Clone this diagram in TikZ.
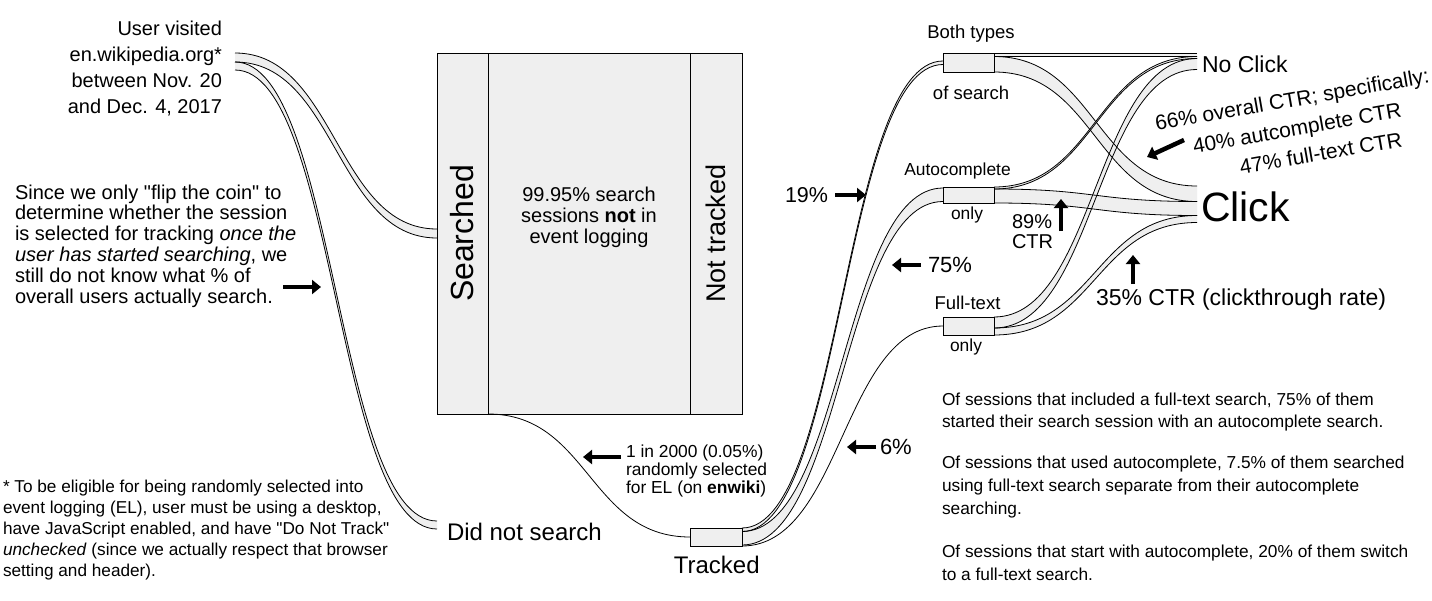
\documentclass[tikz,border=0pt]{standalone}
\usepackage{fontspec}
\setmainfont{Liberation Sans}[Ligatures=TeXOff]
\usetikzlibrary{arrows.meta}
\pgfdeclarelayer{background}
\pgfsetlayers{background,main}
\definecolor{boxgray}{HTML}{EFEFEF}
\definecolor{flowgray}{HTML}{EFEFEF}
\newcommand\fs[2]{\fontsize{#1}{#2}\selectfont}
\newcommand\sflow[5]{%
  \pgfmathsetmacro\fxm{(#1+#3)/2}%
  \pgfmathsetmacro\fyb{#2+#5}%
  \pgfmathsetmacro\fyd{#4+#5}%
  \begin{pgfonlayer}{background}
  \fill[flowfill] (#1,#2) .. controls (\fxm,#2) and (\fxm,#4) .. (#3,#4) -- (#3,\fyd) .. controls (\fxm,\fyd) and (\fxm,\fyb) .. (#1,\fyb) -- cycle;
  \end{pgfonlayer}
  \draw[flowline] (#1,#2) .. controls (\fxm,#2) and (\fxm,#4) .. (#3,#4);
  \draw[flowline] (#1,\fyb) .. controls (\fxm,\fyb) and (\fxm,\fyd) .. (#3,\fyd);
}
\newcommand\sline[4]{%
  \pgfmathsetmacro\fxm{(#1+#3)/2}%
  \draw[flowline] (#1,#2) .. controls (\fxm,#2) and (\fxm,#4) .. (#3,#4);
}
\begin{document}
\begin{tikzpicture}[x=1pt,y=-1pt,
  flowfill/.style={fill=flowgray},
  flowline/.style={draw=black, line width=0.8pt},
  box/.style={draw=black, line width=0.8pt, fill=boxgray, inner sep=0pt, outer sep=0pt},
  txt/.style={inner sep=0pt, outer sep=0pt, text=black},
  bigarrow/.style={line width=4.5pt, -{Triangle[length=9pt,width=14pt]}}]
\begin{pgfonlayer}{background}
\fill[white] (0,0) rectangle (1432,600);
\end{pgfonlayer}
\useasboundingbox (0,0) rectangle (1432,600);

% ---- flows ----
\sflow{235}{53}{437}{229}{9}
\sflow{235}{62}{437}{521}{8}
\sflow{488}{53}{690}{53}{361}
\sline{488}{414}{690}{537}
\sflow{742}{528}{943}{61}{3.5}
\sflow{742}{531.5}{943}{188}{13.5}
\sline{742}{546}{943}{326}
\sflow{994}{53}{1197}{53}{3.5}
\sflow{994}{56.5}{1197}{186}{15.5}
\sflow{994}{187}{1197}{56.5}{2}
\sflow{994}{189}{1197}{201.5}{14}
\sflow{994}{317}{1197}{58.5}{11}
\sflow{994}{328}{1197}{215.5}{7}

% ---- boxes ----
\node[box, rotate=90, minimum width=361pt, minimum height=51pt, font=\fs{32}{32}] (searched) at (462.5,233.5) {Searched};
\node[box, rotate=90, minimum width=361pt, minimum height=52pt, font=\fs{27}{27}] (nottracked) at (716,233.5) {Not tracked};
\node[box, minimum width=52pt, minimum height=18pt] (tracked) at (716,537) {};
\node[box, minimum width=51pt, minimum height=19pt] (both) at (968.5,62.5) {};
\node[box, minimum width=51pt, minimum height=16pt] (auto) at (968.5,195) {};
\node[box, minimum width=51pt, minimum height=18pt] (full) at (968.5,326) {};

% ---- labels ----
\node[txt, anchor=east, align=right, font=\fs{20}{26}] (user) at (222,69) {User visited\\en.wikipedia.org*\\between Nov. 20\\and Dec. 4, 2017};
\node[txt, anchor=west, align=left, font=\fs{20}{20.8}] (since) at (15,246) {Since we only "flip the coin" to\\determine whether the session\\is selected for tracking \textit{once the}\\\textit{user has started searching}, we\\still do not know what \% of\\overall users actually search.};
\node[txt, anchor=west, align=left, font=\fs{17.2}{21}] (foot) at (3,530.5) {* To be eligible for being randomly selected into\\event logging (EL), user must be using a desktop,\\have JavaScript enabled, and have "Do Not Track"\\\textit{unchecked} (since we actually respect that browser\\setting and header).};
\node[txt, align=center, font=\fs{20}{21}] (midtxt) at (589,217) {99.95\% search\\sessions \textbf{not} in\\event logging};
\node[txt, anchor=west, font=\fs{24}{24}] (didnot) at (447,532) {Did not search};
\node[txt, font=\fs{24}{24}] (trackedlbl) at (716.7,565) {Tracked};
\node[txt, anchor=west, align=left, font=\fs{17.4}{17.6}] (el) at (626,471) {1 in 2000 (0.05\%)\\randomly selected\\for EL (on \textbf{enwiki})};

\node[txt, font=\fs{18.5}{18.5}] (bothlbl) at (971,34) {Both types};
\node[txt, font=\fs{18.5}{18.5}] (bothlbl2) at (971,93) {of search};
\node[txt, font=\fs{17.4}{17.4}] (autolbl) at (957.5,171) {Autocomplete};
\node[txt, font=\fs{17.4}{17.4}] (autolbl2) at (967,215) {only};
\node[txt, font=\fs{18.5}{18.5}] (fulllbl) at (967.5,303) {Full-text};
\node[txt, font=\fs{17.4}{17.4}] (fulllbl2) at (966,347) {only};

\node[txt, anchor=west, font=\fs{21.5}{21.5}] (p19) at (785,195) {19\%};
\node[txt, anchor=west, font=\fs{22}{22}] (p75) at (928,265) {75\%};
\node[txt, anchor=west, font=\fs{22}{22}] (p6) at (880,447) {6\%};
\node[txt, anchor=west, align=left, font=\fs{20}{20}] (p89) at (1012,232) {89\%\\CTR};
\node[txt, anchor=west, font=\fs{23}{23}] (p35) at (1096,300) {35\% CTR (clickthrough rate)};
\node[txt, anchor=west, font=\fs{23}{23}] (noclick) at (1202,64) {No Click};
\node[txt, anchor=west, font=\fs{41}{41}] (click) at (1201,207) {Click};
\node[txt, rotate=10, align=center, font=\fs{21}{29}] (ctr) at (1297,128) {66\% overall CTR; specifically:\\40\% autcomplete CTR\\\hspace*{38pt}47\% full-text CTR};

\node[txt, anchor=west, align=left, font=\fs{17.3}{22.7}] (para1) at (942,412) {Of sessions that included a full-text search, 75\% of them\\started their search session with an autocomplete search.};
\node[txt, anchor=west, align=left, font=\fs{17.3}{22.7}] (para2) at (942,487) {Of sessions that used autocomplete, 7.5\% of them searched\\using full-text search separate from their autocomplete\\searching.};
\node[txt, anchor=west, align=left, font=\fs{17.3}{22.7}] (para3) at (942,563) {Of sessions that start with autocomplete, 20\% of them switch\\to a full-text search.};

% ---- pointer arrows ----
\coordinate (a1s) at (283,287); \coordinate (a1e) at (321,287);
\coordinate (a2s) at (835,195); \coordinate (a2e) at (866,195);
\coordinate (a3s) at (921,265); \coordinate (a3e) at (892,265);
\coordinate (a4s) at (876,447); \coordinate (a4e) at (847,447);
\coordinate (a5s) at (621,457); \coordinate (a5e) at (583,457);
\coordinate (a6s) at (1061,231); \coordinate (a6e) at (1061,199);
\coordinate (a7s) at (1133,284); \coordinate (a7e) at (1133,255);
\coordinate (a8s) at (1184,140); \coordinate (a8e) at (1147,157);
\draw[bigarrow] (a1s) -- (a1e);
\draw[bigarrow] (a2s) -- (a2e);
\draw[bigarrow] (a3s) -- (a3e);
\draw[bigarrow] (a4s) -- (a4e);
\draw[bigarrow] (a5s) -- (a5e);
\draw[bigarrow] (a6s) -- (a6e);
\draw[bigarrow] (a7s) -- (a7e);
\draw[bigarrow] (a8s) -- (a8e);
\end{tikzpicture}
\end{document}
